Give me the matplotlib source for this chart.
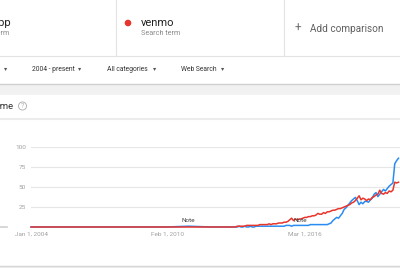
import matplotlib
matplotlib.use("Agg")
import matplotlib.pyplot as plt
from matplotlib.patches import Rectangle, Circle

plt.rcParams["font.family"] = ["Roboto", "DejaVu Sans"]

# ---------------- data ----------------
early_years = [2004.0, 2005.0, 2006.0, 2007.0, 2008.0, 2009.0, 2010.0, 2011.0, 2012.0]
red_early = [0, 0, 0, 0, 0, 0, 0, 0, 0]
blue_early = [0, 0, 0, 0, 0, 0, 0, 1, 0]

monthly_start = 2013.0
red_monthly = [
    0, 0, 1, 1, 1, 1, 1, 2, 2, 2, 2, 2,            # 2013
    2, 2, 3, 3, 3, 3, 3, 4, 3, 4, 4, 4,            # 2014
    5, 5, 5, 6, 6, 7, 9, 11, 8, 10, 9, 10,         # 2015
    10, 11, 12, 12, 13, 13, 14, 14, 15, 17, 16, 16,  # 2016
    18, 17, 19, 19, 20, 21, 21, 22, 23, 23, 24, 25,  # 2017
    26, 27, 28, 30, 31, 33, 36, 39, 34, 36, 35, 33,  # 2018
    35, 34, 37, 38, 40, 41, 46, 42, 41, 43, 42, 45,  # 2019
    44, 46, 56, 55, 56,                              # 2020
]
blue_monthly = [
    0, 0, 0, 1, 0, 0, 1, 0, 0, 1, 0, 0,            # 2013
    1, 1, 1, 1, 1, 1, 1, 1, 1, 1, 1, 1,            # 2014
    1, 1, 1, 1, 2, 2, 2, 1, 2, 2, 2, 2,            # 2015
    2, 2, 2, 2, 2, 3, 3, 3, 3, 3, 3, 3,            # 2016
    3, 3, 3, 4, 5, 8, 10, 12, 11, 14, 17, 22,      # 2017
    24, 27, 30, 33, 35, 37, 33, 28, 31, 29, 32, 32,  # 2018
    31, 34, 36, 41, 43, 38, 41, 44, 47, 45, 48, 51,  # 2019
    53, 55, 79, 83, 86,                              # 2020
]

x_ticks = [2004.0, 2010.083, 2016.167]
x_tick_labels = ["Jan 1, 2004", "Feb 1, 2010", "Mar 1, 2016"]
y_ticks = [25, 50, 75, 100]
notes = [(2011.0, "Note"), (2015.95, "Note")]

red_x = early_years + [monthly_start + i / 12 for i in range(len(red_monthly))]
red_y = red_early + red_monthly
blue_x = early_years + [monthly_start + i / 12 for i in range(len(blue_monthly))]
blue_y = blue_early + blue_monthly

RED = "#e8352b"
BLUE = "#2a8cf0"

# ---------------- figure ----------------
W, H = 400, 268
fig = plt.figure(figsize=(W / 100, H / 100), dpi=100)
bg = fig.add_axes([0, 0, 1, 1])
bg.set_xlim(0, W)
bg.set_ylim(H, 0)
bg.axis("off")

bg.add_patch(Rectangle((0, 0), W, H, color="#f1f1f1", zorder=0))
bg.add_patch(Rectangle((0, 0), W, 83, color="white", zorder=1))
bg.plot([0, W], [55.5, 55.5], color="#e3e3e3", lw=0.8, zorder=2)
bg.plot([0, W], [83.5, 83.5], color="#d0d0d0", lw=1.0, zorder=2)
bg.plot([115.5, 115.5], [0, 55], color="#e3e3e3", lw=0.8, zorder=2)
bg.plot([283.5, 283.5], [0, 55], color="#e3e3e3", lw=0.8, zorder=2)

bg.add_patch(Rectangle((0, 95), W, 170, color="white", zorder=1))
bg.plot([0, W], [118.5, 118.5], color="#ececec", lw=1.5, zorder=2)
bg.plot([0, W], [265.5, 265.5], color="#d6d6d6", lw=1.0, zorder=2)

# term texts
bg.text(11, 23, "Cash App", ha="right", va="center", fontsize=8, color="#202020", zorder=3)
bg.text(9.5, 33.5, "Search term", ha="right", va="center", fontsize=5.2, color="#8a8a8a", zorder=3)
bg.add_patch(Circle((128, 23), 2.6, color=RED, zorder=3))
bg.text(141, 23, "venmo", ha="left", va="center", fontsize=8, color="#202020", zorder=3)
bg.text(141, 33.5, "Search term", ha="left", va="center", fontsize=5.2, color="#8a8a8a", zorder=3)
bg.text(298, 28, "+", ha="center", va="center", fontsize=8.5, color="#707070", zorder=3)
bg.text(310, 28.5, "Add comparison", ha="left", va="center", fontsize=7.2, color="#606060", zorder=3)

# filter bar
fcol = "#333333"
fs = 4.9
acol = "#555555"
afs = 4.6
bg.text(6, 69, "\u25be", ha="center", va="center", fontsize=afs, color=acol, zorder=3)
bg.text(32, 69.5, "2004 - present", ha="left", va="center", fontsize=fs, color=fcol, zorder=3)
bg.text(79.5, 69, "\u25be", ha="center", va="center", fontsize=afs, color=acol, zorder=3)
bg.text(107, 69.5, "All categories", ha="left", va="center", fontsize=fs, color=fcol, zorder=3)
bg.text(155, 69, "\u25be", ha="center", va="center", fontsize=afs, color=acol, zorder=3)
bg.text(181, 69.5, "Web Search", ha="left", va="center", fontsize=fs, color=fcol, zorder=3)
bg.text(222.5, 69, "\u25be", ha="center", va="center", fontsize=afs, color=acol, zorder=3)

# card title
bg.text(13, 106.5, "Interest over time", ha="right", va="center", fontsize=6.8, color="#303030", zorder=3)
bg.add_patch(Circle((22.5, 106), 4.0, fill=False, ec="#b5b5b5", lw=0.7, zorder=3))
bg.text(22.5, 106.3, "?", ha="center", va="center", fontsize=5, color="#b5b5b5", zorder=3)

bg.plot([0, 7], [227, 227], color="#d0d0d0", lw=1.2, zorder=3)

# ---------------- chart ----------------
x_left_px, x_right_px = 31, 400
y0_px, y100_px = 227, 147
x_min, px_per_year = 2004.0, 22.5
x_max = x_min + (x_right_px - x_left_px) / px_per_year

ax = fig.add_axes([x_left_px / W, (H - y0_px) / H,
                   (x_right_px - x_left_px) / W, (y0_px - y100_px) / H])
ax.set_xlim(x_min, x_max)
ax.set_ylim(0, 100)
ax.patch.set_alpha(0)
for s in ax.spines.values():
    s.set_visible(False)

for yv in y_ticks:
    ax.axhline(yv, color="#e6e6e6", lw=0.8, zorder=1)

ax.plot(blue_x, blue_y, color=BLUE, lw=1.1, zorder=3, clip_on=False,
        solid_joinstyle="round")
ax.plot(red_x, red_y, color=RED, lw=1.1, zorder=4, clip_on=False,
        solid_joinstyle="round")

ax.set_yticks(y_ticks)
ax.set_yticklabels([str(v) for v in y_ticks])
ax.set_xticks(x_ticks)
ax.set_xticklabels(x_tick_labels)
ax.tick_params(axis="both", length=0, labelsize=4.6, colors="#a0a0a0")
ax.tick_params(axis="y", pad=3.5)
ax.tick_params(axis="x", pad=3)

for nx, nt in notes:
    ax.text(nx, 4.5, nt, ha="center", va="bottom", fontsize=4.6, color="#404040", zorder=5)

fig.savefig("out.png", dpi=100)
